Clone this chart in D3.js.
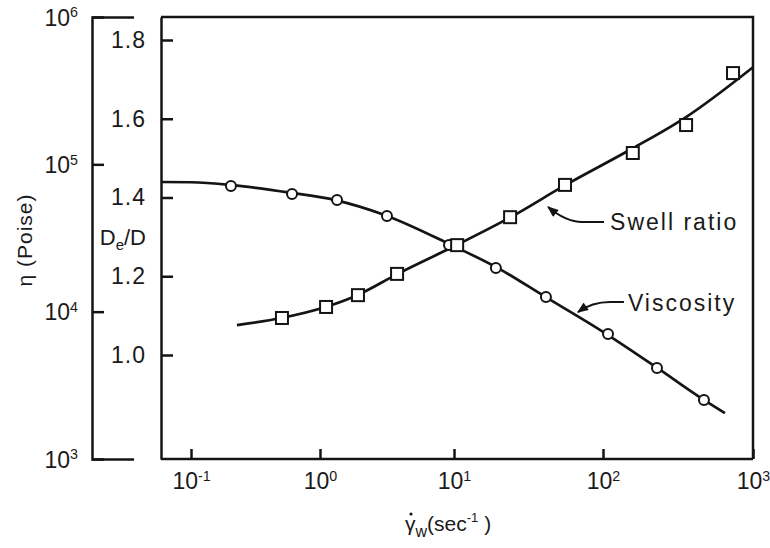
<!DOCTYPE html>
<html>
<head>
<meta charset="utf-8">
<script src="https://cdn.jsdelivr.net/npm/d3@7"></script>
<style>
  body { margin: 0; background: #fff; }
  text { font-family: "Liberation Sans", Arial, Helvetica, sans-serif; fill: #1a1a1a; }
</style>
</head>
<body>
<div id="chart"></div>
<script>
// shear rate ticks and the two left axes
const rateTicks = [0.1, 1, 10, 100, 1000];
const etaTicks = [1e3, 1e4, 1e5, 1e6];
const swellTicks = [1.0, 1.2, 1.4, 1.6, 1.8];

// viscosity (circles) and its fitted curve
const viscRate = [0.204, 0.607, 1.34, 3.16, 9.18, 19.1, 41.4, 108, 229, 471];
const viscEta  = [71300, 62800, 57300, 44600, 28300, 19800, 12560, 7050, 4140, 2510];
const viscFitRate = [0.0585, 0.1, 0.2, 0.6, 1.3, 3, 9.5, 20, 40, 100, 230, 470, 650];
const viscFitEta  = [75900, 75600, 72600, 64000, 57200, 45500, 28400, 19600, 12800, 7300, 4150, 2520, 2050];

// swell ratio (squares) and its fitted curve
const swellRate  = [0.507, 1.11, 1.92, 3.76, 10.5, 23.8, 55.6, 158, 358, 736];
const swellRatio = [1.094, 1.122, 1.152, 1.206, 1.279, 1.350, 1.432, 1.513, 1.584, 1.716];
const swellFitRate  = [0.227, 0.5, 1.1, 1.9, 3.8, 10, 24, 55, 158, 360, 1000];
const swellFitRatio = [1.076, 1.094, 1.122, 1.152, 1.206, 1.276, 1.350, 1.430, 1.525, 1.605, 1.731];

// curve labels: arrow tip in data space
const notes = [
  {label: "Swell ratio", rate: 42.8, value: 1.376, axis: "swell", tx: 62, ty: 23, path: [[56, 15], [34, 15], [18, 15]]},
  {label: "Viscosity", rate: 67.9, value: 9930, axis: "eta", tx: 50, ty: -1, path: [[46, -10], [32, -10], [14, -10]]}
];

const W = 770, H = 548;
const ETA_X = 92, PLOT_L = 161, PLOT_R = 753, TOP = 17, BOTTOM = 459;
const INK = "#141414";

const svg = d3.select("#chart").append("svg")
  .attr("width", W).attr("height", H);

// printed decades are not evenly spaced, so the log scale is piecewise
const x = d3.scaleLog().domain(rateTicks).range([191, 320, 454, 603, PLOT_R]);
const yEta = d3.scaleLog().domain([1e3, 1e6]).range([BOTTOM, TOP]);
const ySwell = d3.scaleLinear().domain([1.0, 1.8]).range([355, 40]);

function pow10(sel) {
  sel.selectAll(".tick text").each(function(d) {
    const t = d3.select(this).text(null);
    t.append("tspan").text("10");
    t.append("tspan").attr("dy", "-0.6em").attr("font-size", "0.62em")
      .text(Math.round(Math.log10(d)));
  });
}

function inkAxis(g) {
  g.selectAll("path, line").attr("stroke", INK).attr("stroke-width", 2.5);
  g.selectAll("text").attr("font-size", 23).attr("fill", "#1a1a1a")
    .attr("font-family", '"Liberation Sans", Arial, sans-serif');
}

// eta axis
svg.append("g")
  .attr("transform", "translate(" + ETA_X + ",0)")
  .call(d3.axisLeft(yEta).tickValues(etaTicks).tickSizeInner(-12).tickSizeOuter(-42).tickPadding(14))
  .call(inkAxis)
  .call(pow10)
  .call(g => g.selectAll(".tick text").attr("dy", "0.36em"));

// swell ratio axis
const yScaleFull = ySwell.copy().domain([ySwell.invert(BOTTOM), ySwell.invert(TOP)]).range([BOTTOM, TOP]);
svg.append("g")
  .attr("transform", "translate(" + PLOT_L + ",0)")
  .call(d3.axisLeft(yScaleFull).tickValues(swellTicks).tickFormat(d3.format(".1f"))
    .tickSizeInner(-12).tickSizeOuter(0).tickPadding(15))
  .call(inkAxis)
  .call(g => g.selectAll(".tick text").attr("letter-spacing", 1));

// rate axis
svg.append("g")
  .attr("transform", "translate(0," + BOTTOM + ")")
  .call(d3.axisBottom(x).tickValues(rateTicks).tickSizeInner(-10).tickSizeOuter(0).tickPadding(14))
  .call(inkAxis)
  .call(pow10)
  .call(g => g.select(".domain").attr("d", "M" + PLOT_L + ",0H" + PLOT_R));

// top and right frame
svg.append("path")
  .attr("d", "M" + PLOT_L + "," + TOP + "H" + PLOT_R + "V" + BOTTOM)
  .attr("fill", "none").attr("stroke", INK).attr("stroke-width", 2.5);

// fitted curves
const line = d3.line().curve(d3.curveMonotoneX);
svg.append("path")
  .attr("d", line(viscFitRate.map((r, i) => [x(r), yEta(viscFitEta[i])])))
  .attr("fill", "none").attr("stroke", INK).attr("stroke-width", 2.7);
svg.append("path")
  .attr("d", line(swellFitRate.map((r, i) => [x(r), ySwell(swellFitRatio[i])])))
  .attr("fill", "none").attr("stroke", INK).attr("stroke-width", 2.7);

// points
svg.selectAll(".visc").data(viscRate).enter().append("circle")
  .attr("class", "visc")
  .attr("cx", d => x(d))
  .attr("cy", (d, i) => yEta(viscEta[i]))
  .attr("r", 5)
  .attr("fill", "#fff").attr("stroke", INK).attr("stroke-width", 2);

svg.selectAll(".swell").data(swellRate).enter().append("rect")
  .attr("class", "swell")
  .attr("x", d => x(d) - 6)
  .attr("y", (d, i) => ySwell(swellRatio[i]) - 6)
  .attr("width", 12).attr("height", 12)
  .attr("fill", "#fff").attr("stroke", INK).attr("stroke-width", 2);

// annotations
svg.append("defs").append("marker")
  .attr("id", "tip").attr("viewBox", "0 0 10 8")
  .attr("refX", 9).attr("refY", 4)
  .attr("markerWidth", 12).attr("markerHeight", 9)
  .attr("markerUnits", "userSpaceOnUse")
  .attr("orient", "auto")
  .append("path").attr("d", "M0,0L10,4L0,8Z").attr("fill", INK);

notes.forEach(n => {
  const px = x(n.rate);
  const py = n.axis === "eta" ? yEta(n.value) : ySwell(n.value);
  const p = n.path;
  svg.append("path")
    .attr("d", "M" + (px + p[0][0]) + "," + (py + p[0][1]) +
      "H" + (px + p[1][0]) +
      "Q" + (px + p[2][0]) + "," + (py + p[2][1]) + " " + px + "," + py)
    .attr("fill", "none").attr("stroke", INK).attr("stroke-width", 2)
    .attr("marker-end", "url(#tip)");
  svg.append("text")
    .attr("x", px + n.tx).attr("y", py + n.ty)
    .attr("font-size", 23).attr("letter-spacing", 2)
    .text(n.label);
});

// axis titles
svg.append("text")
  .attr("transform", "translate(32,240) rotate(-90)")
  .attr("text-anchor", "middle").attr("font-size", 21).attr("letter-spacing", 1)
  .text("\u03b7 (Poise)");

const dd = svg.append("text")
  .attr("x", 146).attr("y", ySwell(1.3) + 8)
  .attr("text-anchor", "end").attr("font-size", 22);
dd.append("tspan").text("D");
dd.append("tspan").attr("dy", 5).attr("font-size", 15).text("e");
dd.append("tspan").attr("dy", -5).text("/D");

const X_LABEL = 405, X_LABEL_Y = 531;
const xl = svg.append("text")
  .attr("x", X_LABEL).attr("y", X_LABEL_Y)
  .attr("font-size", 21);
xl.append("tspan").text("\u03b3");
xl.append("tspan").attr("dy", 6).attr("font-size", 16).text("w");
xl.append("tspan").attr("dy", -6).text("(sec");
xl.append("tspan").attr("dy", -9).attr("font-size", 13).text("-1");
xl.append("tspan").attr("dy", 9).text(" )");
// dot over gamma (rate symbol)
svg.append("circle")
  .attr("cx", X_LABEL + 6).attr("cy", X_LABEL_Y - 17)
  .attr("r", 1.6).attr("fill", INK);
</script>
</body>
</html>
